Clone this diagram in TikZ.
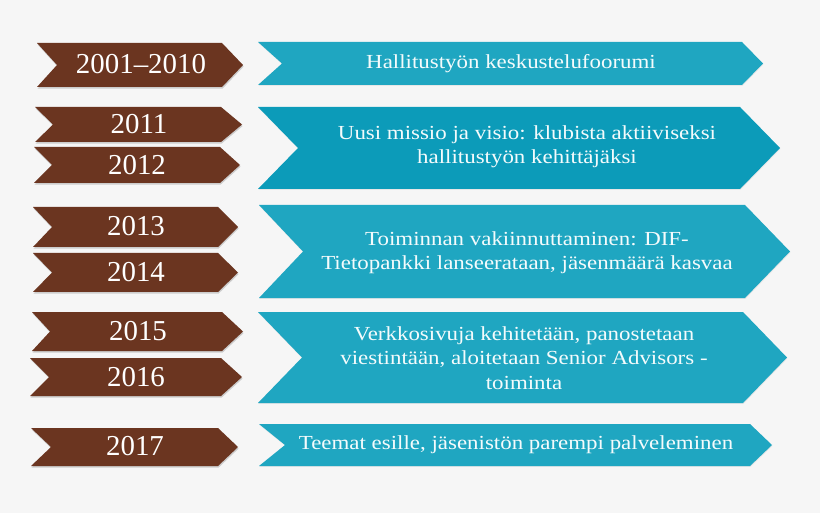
\documentclass[tikz,border=0pt]{standalone}
\usepackage{fontspec}
\setmainfont{Liberation Serif}[FakeStretch=1.15]
\newfontfamily\yearfont{Liberation Serif}[Ligatures=TeX]
\usepackage{tikz}
\usetikzlibrary{shadows}

\definecolor{yearbrown}{HTML}{6B3520}
\definecolor{topicblue}{HTML}{1FA6C1}
\definecolor{topicdark}{HTML}{0C9BB9}
\definecolor{pagegray}{HTML}{F6F6F6}
\definecolor{textwhite}{HTML}{F4FBFC}

\tikzset{
  yearbox/.style={fill=yearbrown, drop shadow={opacity=.35, shadow xshift=.6pt, shadow yshift=-1.6pt}},
  topicbox/.style={fill=topicblue, drop shadow={opacity=.12, shadow xshift=.4pt, shadow yshift=-1pt}},
  yeartext/.style={text=white, inner sep=0pt, font=\yearfont\fontsize{29}{29}\selectfont},
  topictext/.style={text=textwhite, align=center, inner sep=0pt, font=\fontsize{20}{24.5}\selectfont}
}

\begin{document}
\begin{tikzpicture}[x=1bp, y=-1bp]
\useasboundingbox[fill=pagegray] (0,0) rectangle (820,513);

% years
\fill[yearbox] (37,43) -- (222,43) -- (243,65) -- (222,87) -- (37,87) -- (57,65) -- cycle;
\fill[yearbox] (35,107) -- (221,107) -- (242,124.5) -- (221,142) -- (35,142) -- (53,124.5) -- cycle;
\fill[yearbox] (34,147) -- (220,147) -- (240,165) -- (220,183) -- (34,183) -- (52,165) -- cycle;
\fill[yearbox] (33,207) -- (218,207) -- (238,227) -- (218,247) -- (33,247) -- (52,227) -- cycle;
\fill[yearbox] (33,253) -- (218,253) -- (238,272.5) -- (218,292) -- (33,292) -- (52,272.5) -- cycle;
\fill[yearbox] (32,312) -- (222,312) -- (243,331.5) -- (222,351) -- (32,351) -- (50,331.5) -- cycle;
\fill[yearbox] (30,358) -- (221,358) -- (242,377) -- (221,396) -- (30,396) -- (49,377) -- cycle;
\fill[yearbox] (31,428) -- (218,428) -- (238,447) -- (218,466) -- (31,466) -- (51,447) -- cycle;

\node[yeartext] (y1) at (141,64) {2001–2010};
\node[yeartext] (y2) at (139,124) {2011};
\node[yeartext] (y3) at (137,165) {2012};
\node[yeartext] (y4) at (136,226) {2013};
\node[yeartext] (y5) at (136,272) {2014};
\node[yeartext] (y6) at (138,331) {2015};
\node[yeartext] (y7) at (136,377) {2016};
\node[yeartext] (y8) at (135,446) {2017};

% topics
\fill[topicbox] (258,42) -- (742,42) -- (763,63.5) -- (742,85) -- (258,85) -- (282,63.5) -- cycle;
\fill[topicbox, fill=topicdark] (258,107) -- (740,107) -- (780,148) -- (740,189) -- (258,189) -- (298,148) -- cycle;
\fill[topicbox] (259,205) -- (745,205) -- (790,251.5) -- (745,298) -- (259,298) -- (303,251.5) -- cycle;
\fill[topicbox] (258,312) -- (743,312) -- (787,357.5) -- (743,403) -- (258,403) -- (302,357.5) -- cycle;
\fill[topicbox] (259,424) -- (750,424) -- (772,445) -- (750,466) -- (259,466) -- (285,445) -- cycle;

\node[topictext] (t1) at (511,64) {Hallitustyön keskustelufoorumi};
\node[topictext] (t2) at (527,147) {Uusi missio ja visio: klubista aktiiviseksi\\hallitustyön kehittäjäksi};
\node[topictext] (t3) at (527,253) {Toiminnan vakiinnuttaminen: DIF-\\Tietopankki lanseerataan, jäsenmäärä kasvaa};
\node[topictext] (t4) at (524,358) {Verkkosivuja kehitetään, panostetaan\\viestintään, aloitetaan Senior Advisors -\\toiminta};
\node[topictext] (t5) at (516,445) {Teemat esille, jäsenistön parempi palveleminen};
\end{tikzpicture}
\end{document}
